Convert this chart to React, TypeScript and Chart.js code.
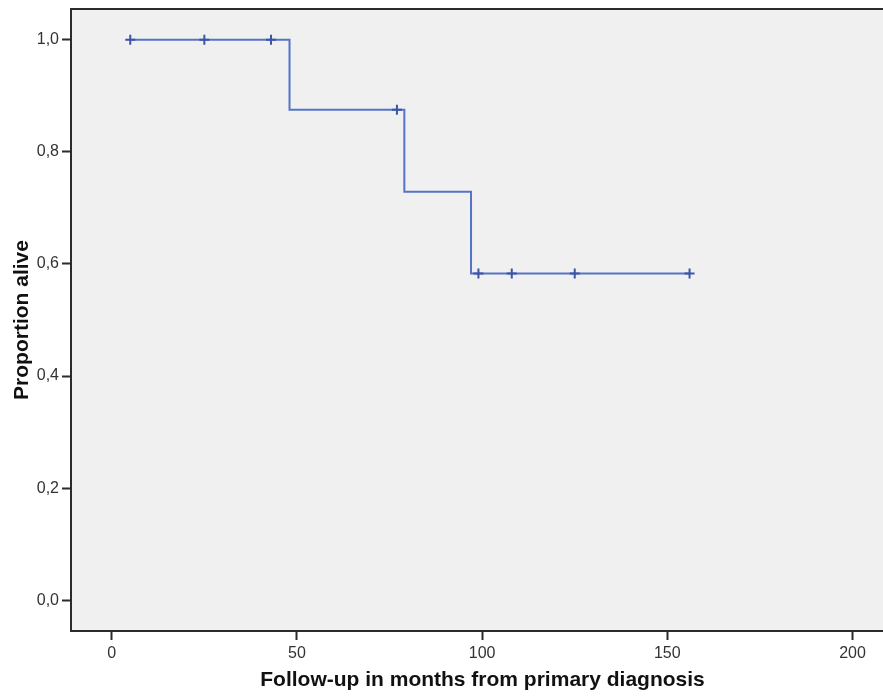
import React, { useEffect, useRef } from "react";
import { Chart, registerables } from "chart.js";

Chart.register(...registerables);

// Kaplan-Meier step curve (survival changes at these months)
const stepTimes = [5, 48, 79, 97, 156];
const stepSurvival = [1.0, 0.875, 0.729, 0.583, 0.583];

// Censored observations (plus marks)
const censorTimes = [5, 25, 43, 77, 99, 108, 125, 156];
const censorSurvival = [1.0, 1.0, 1.0, 0.875, 0.583, 0.583, 0.583, 0.583];

const xTickValues = [0, 50, 100, 150, 200];
const yTickValues = [0, 0.2, 0.4, 0.6, 0.8, 1.0];

const xTitle = "Follow-up in months from primary diagnosis";
const yTitle = "Proportion alive";

const FONT = "'Liberation Sans', Arial, sans-serif";
const AXIS_COLOR = "#2b2b2b";

export default function App() {
  const ref = useRef<HTMLCanvasElement | null>(null);

  useEffect(() => {
    if (!ref.current) return;
    const framePlugin = {
      id: "frame",
      beforeDatasetsDraw(chart: any) {
        const { ctx, chartArea } = chart;
        ctx.save();
        ctx.fillStyle = "#f0f0f0";
        ctx.fillRect(chartArea.left, chartArea.top, chartArea.right - chartArea.left, chartArea.bottom - chartArea.top);
        ctx.restore();
      },
      afterDraw(chart: any) {
        const { ctx, chartArea } = chart;
        ctx.save();
        ctx.strokeStyle = AXIS_COLOR;
        ctx.lineWidth = 2;
        ctx.beginPath();
        ctx.moveTo(chartArea.left - 1, chartArea.top);
        ctx.lineTo(chartArea.right + 5, chartArea.top);
        ctx.moveTo(chartArea.left, chartArea.top - 1);
        ctx.lineTo(chartArea.left, chartArea.bottom + 1);
        ctx.moveTo(chartArea.left - 1, chartArea.bottom);
        ctx.lineTo(chartArea.right + 5, chartArea.bottom);
        ctx.stroke();
        ctx.restore();
      },
    };

    const chart = new Chart(ref.current, {
      type: "scatter",
      data: {
        datasets: [
          {
            label: "Censored",
            data: censorTimes.map((t, i) => ({ x: t, y: censorSurvival[i] })),
            showLine: false,
            pointStyle: "cross",
            pointRadius: 5,
            pointBorderWidth: 2,
            borderColor: "#3b54a6",
            backgroundColor: "#3b54a6",
            order: 0,
          },
          {
            label: "Survival",
            data: stepTimes.map((t, i) => ({ x: t, y: stepSurvival[i] })),
            showLine: true,
            stepped: "before",
            borderColor: "#5673c6",
            borderWidth: 2,
            pointRadius: 0,
            order: 1,
          },
        ],
      },
      options: {
        responsive: false,
        animation: false,
        layout: { padding: { top: 9, left: 0, right: 0, bottom: 0 } },
        plugins: {
          legend: { display: false },
          tooltip: { enabled: false },
        },
        scales: {
          x: {
            type: "linear",
            min: -11,
            max: 211.2,
            afterBuildTicks: (s: any) => {
              s.ticks = xTickValues.map((v) => ({ value: v }));
            },
            afterFit: (s: any) => {
              s.height = 65;
              s.paddingLeft = 0;
              s.paddingRight = 0;
            },
            grid: {
              drawOnChartArea: false,
              drawTicks: true,
              tickLength: 9,
              tickWidth: 2,
              tickColor: AXIS_COLOR,
              color: AXIS_COLOR,
            },
            border: { display: false },
            ticks: {
              padding: 4,
              maxRotation: 0,
              autoSkip: false,
              color: "#333",
              font: { family: FONT, size: 16 },
              callback: (v: any) => String(v),
            },
            title: {
              display: true,
              text: xTitle,
              color: "#111",
              font: { family: FONT, size: 21, weight: "bold" },
              padding: { top: 0, bottom: 3 },
            },
          },
          y: {
            type: "linear",
            min: -0.055,
            max: 1.055,
            afterBuildTicks: (s: any) => {
              s.ticks = yTickValues.map((v) => ({ value: v }));
            },
            afterFit: (s: any) => {
              s.width = 71;
              s.paddingTop = 0;
              s.paddingBottom = 0;
            },
            grid: {
              drawOnChartArea: false,
              drawTicks: true,
              tickLength: 9,
              tickWidth: 2,
              tickColor: AXIS_COLOR,
              color: AXIS_COLOR,
            },
            border: { display: false },
            ticks: {
              padding: 3,
              autoSkip: false,
              color: "#333",
              font: { family: FONT, size: 16 },
              callback: (v: any) => Number(v).toFixed(1).replace(".", ","),
            },
            title: {
              display: true,
              text: yTitle,
              color: "#111",
              font: { family: FONT, size: 21, weight: "bold" },
              padding: { top: 10, bottom: 0 },
            },
          },
        },
      },
      plugins: [framePlugin],
    } as any);

    return () => chart.destroy();
  }, []);

  return (
    <div
      style={{
        position: "absolute",
        left: 0,
        top: 0,
        width: 883,
        height: 696,
        overflow: "hidden",
        background: "#fff",
      }}
    >
      <canvas ref={ref} width={901} height={696} style={{ display: "block" }} />
    </div>
  );
}
